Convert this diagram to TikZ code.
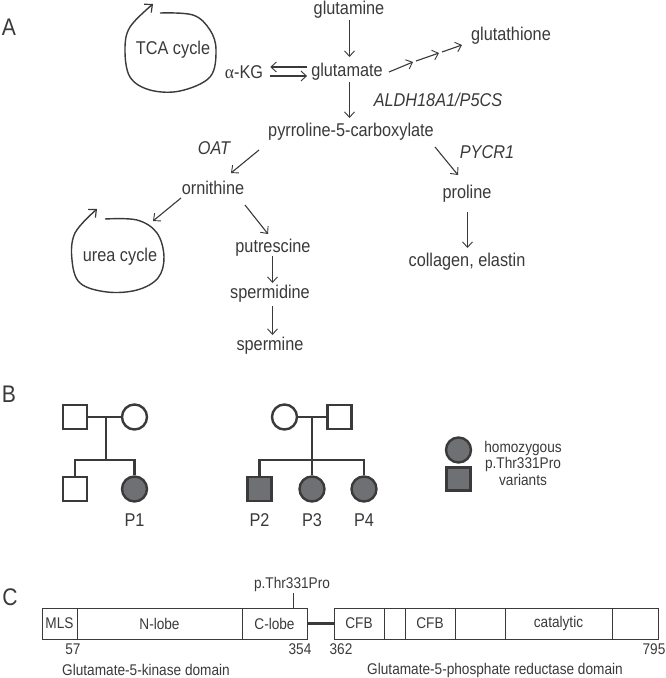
\documentclass[tikz,border=0pt]{standalone}
\usepackage{fontspec}
\setmainfont{Liberation Sans}[FakeStretch=0.88]
\newfontfamily\greekserif{Liberation Serif}[FakeStretch=0.95]
\usetikzlibrary{arrows.meta}
\definecolor{ink}{HTML}{3A3A3A}
\definecolor{fillg}{HTML}{6F7073}
\begin{document}
\begin{tikzpicture}[x=1pt,y=-1pt,
  every node/.style={text=ink, inner sep=0pt},
  lbl/.style={font=\fontsize{18.5}{21}\selectfont},
  enz/.style={font=\fontsize{18.5}{21}\selectfont\itshape},
  small/.style={font=\fontsize{15.5}{16.5}\selectfont},
  panel/.style={font=\fontsize{24}{26}\selectfont},
  arr/.style={draw=ink, line width=1.1pt, -{Straight Barb[length=5.5pt,width=10pt,line width=0.9pt]}},
  cyc/.style={draw=ink, line width=1.4pt, -{Straight Barb[length=6pt,width=11pt,line width=1.2pt]}},
  ped/.style={draw=ink, line width=2.4pt},
  pedsq/.style={ped, rectangle, minimum width=24pt, minimum height=24pt},
  pedci/.style={ped, circle, minimum size=25pt},
  aff/.style={fill=fillg},
  seg/.style={draw=ink, line width=1pt, rectangle, minimum height=31pt, font=\fontsize{15.5}{17}\selectfont},
]
\useasboundingbox (0,0) rectangle (666,678);
\fill[white] (0,0) rectangle (666,678);

% ---------- Panel A ----------
\node[panel] (A) at (9,27) {A};
\node[lbl] (gln) at (349,10) {glutamine};
\node[lbl] (glu) at (347,72) {glutamate};
\node[lbl] (akg) at (244,72) {{\greekserif α}-KG};
\node[lbl] (gsh) at (511,36) {glutathione};
\node[enz] (aldh) at (438,100) {ALDH18A1/P5CS};
\node[lbl] (p5c) at (351,132) {pyrroline-5-carboxylate};
\node[enz] (oat) at (214,148) {OAT};
\node[enz] (pycr) at (487,152) {PYCR1};
\node[lbl] (orn) at (213,188) {ornithine};
\node[lbl] (pro) at (467,194) {proline};
\node[lbl] (put) at (273,248) {putrescine};
\node[lbl] (spd) at (270,294) {spermidine};
\node[lbl] (spm) at (270,346) {spermine};
\node[lbl] (col) at (467,262) {collagen, elastin};
\node[lbl] (tca) at (173,50) {TCA cycle};
\node[lbl] (urea) at (120,257) {urea cycle};

\draw[arr] ([shift={(0.5,10)}]gln.center) -- ([shift={(2.5,-15)}]glu.center);
\draw[arr] ([shift={(2.5,10)}]glu.center) -- ([shift={(-1.5,-14)}]p5c.center);
\draw[arr] ([shift={(-4,-5)}]glu.west) -- ([shift={(7,-5)}]akg.east);
\draw[arr] ([shift={(7,4)}]akg.east) -- ([shift={(-4,4)}]glu.west);
\coordinate (ga) at (413,62);
\coordinate (gb) at (439,53);
\draw[arr] ([shift={(6,0)}]glu.east) -- (ga);
\draw[arr] ([shift={(3,-1)}]ga) -- (gb);
\draw[arr] ([shift={(3,-1)}]gb) -- ([shift={(-9,9)}]gsh.west);
\draw[arr] ([shift={(-92,18)}]p5c.center) -- ([shift={(18,-15)}]orn.center);
\draw[arr] ([shift={(84,15)}]p5c.center) -- ([shift={(-9,-19)}]pro.center);
\draw[arr] ([shift={(-32,10)}]orn.center) -- ([shift={(33,-36)}]urea.center);
\draw[arr] ([shift={(32,17)}]orn.center) -- ([shift={(-5,-14)}]put.center);
\draw[arr] ([shift={(-0.5,8)}]put.center) -- ([shift={(2.5,-11)}]spd.center);
\draw[arr] ([shift={(2.5,12)}]spd.center) -- ([shift={(2.5,-11)}]spm.center);
\draw[arr] ([shift={(0.5,18)}]pro.center) -- ([shift={(0.5,-14)}]col.center);

\draw[cyc] plot[smooth, tension=0.6] coordinates {(160,13) (193,15) (210,30) (216,50) (210,77) (180,91) (150,90) (130,77) (125,50) (130,27) (153,4)};
\draw[cyc] plot[smooth, tension=0.6] coordinates {(105,219) (137,220) (157,233) (164,257) (158,278) (137,290) (107,292) (80,283) (72,260) (75,233) (97,209)};

% ---------- Panel B ----------
\node[panel] (B) at (9,394) {B};
% family 1
\node[pedsq] (f1) at (75,417) {};
\node[pedci] (m1) at (134.5,417) {};
\node[pedsq] (s1) at (75,489) {};
\node[pedci, aff] (d1) at (134.5,489) {};
\node[lbl] (p1) at (134.5,520) {P1};
\coordinate (j1) at (106,417);
\coordinate (k1) at (106,460);
\draw[ped] (f1.east) -- (m1.west);
\draw[ped] (j1) -- (k1);
\draw[ped] (s1.north) -- (s1.north |- k1) -- (d1.north |- k1) -- (d1.north);
% family 2
\node[pedci] (m2) at (284.5,417) {};
\node[pedsq] (f2) at (339.5,417) {};
\node[pedsq, aff] (p2s) at (259.5,489) {};
\node[pedci, aff] (p3c) at (312,489) {};
\node[pedci, aff] (p4c) at (364,489) {};
\node[lbl] (p2) at (259.5,520) {P2};
\node[lbl] (p3) at (312,520) {P3};
\node[lbl] (p4) at (364,520) {P4};
\coordinate (j2) at (312,417);
\coordinate (k2) at (312,460);
\draw[ped] (m2.east) -- (f2.west);
\draw[ped] (j2) -- (p3c.north);
\draw[ped] (p2s.north) -- (p2s.north |- k2) -- (p4c.north |- k2) -- (p4c.north);
% legend
\node[pedci, aff] (lc) at (458.5,450) {};
\node[pedsq, aff, minimum height=23pt] (ls) at (458.5,479) {};
\node[small, align=center] (lt) at (523,463) {homozygous\\p.Thr331Pro\\variants};

% ---------- Panel C ----------
\node[panel] (C) at (10,597) {C};
\node[seg, minimum width=35pt] (mls) at (59.5,623.5) {MLS};
\node[seg, minimum width=165pt] (nl) at (159.5,623.5) {N-lobe};
\node[seg, minimum width=65pt] (cl) at (274.5,623.5) {C-lobe};
\node[seg, minimum width=50pt] (cfb1) at (359,623.5) {CFB};
\node[seg, minimum width=21pt] (e1) at (394.5,623.5) {};
\node[seg, minimum width=50pt] (cfb2) at (430,623.5) {CFB};
\node[seg, minimum width=50pt] (e2) at (480,623.5) {};
\node[seg, minimum width=107pt] (cat) at (558.5,623.5) {catalytic};
\node[seg, minimum width=46pt] (e3) at (635,623.5) {};
\draw[draw=ink, line width=3pt] (cl.east) -- (cfb1.west);
\node[small] (mut) at (292,584) {p.Thr331Pro};
\draw[draw=ink, line width=1pt] ([shift={(1,2)}]mut.south) -- ([xshift=1pt]mut.south |- cl.north);
\node[small] (n57) at (73,649) {57};
\node[small] (n354) at (300,649) {354};
\node[small] (n362) at (341,649) {362};
\node[small] (n795) at (654,649) {795};
\node[small] (dk) at (146,670) {Glutamate-5-kinase domain};
\node[small] (dr) at (495,670) {Glutamate-5-phosphate reductase domain};
\end{tikzpicture}
\end{document}
